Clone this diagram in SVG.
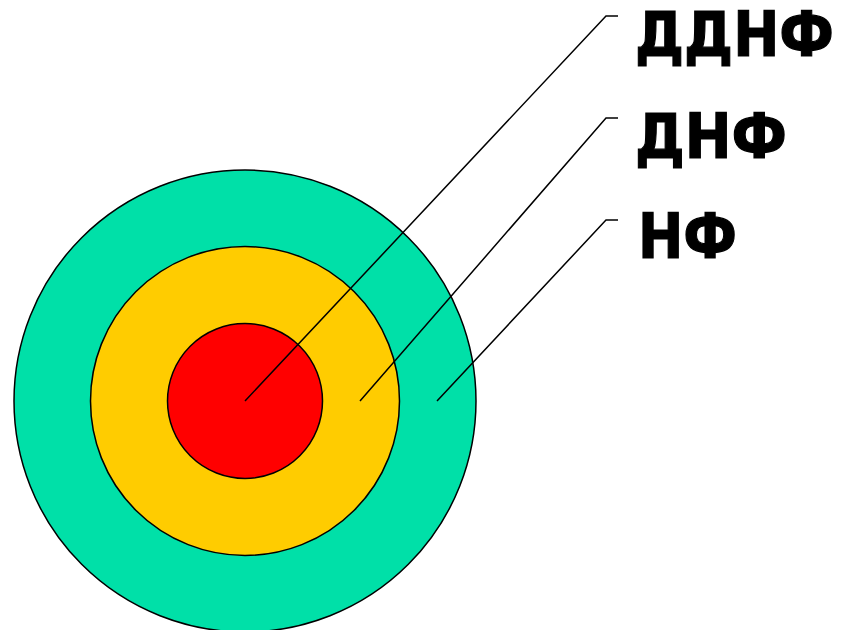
<svg xmlns="http://www.w3.org/2000/svg" width="843" height="630" viewBox="0 0 843 630">
<style>
.ring{stroke:#000;stroke-width:1.5}
.lead{fill:none;stroke:#000;stroke-width:1.5}
.lbl{font-family:"DejaVu Sans","Verdana",sans-serif;font-weight:bold;font-size:62px;fill:#000;stroke:#000;stroke-width:1.2}
</style>
<rect width="843" height="630" fill="#fff"/>
<g id="nf-ring"><circle class="ring" cx="245" cy="401" r="231" fill="#00E0A8"/></g>
<g id="dnf-ring"><circle class="ring" cx="245" cy="401" r="154.5" fill="#FFCC00"/></g>
<g id="ddnf-ring"><circle class="ring" cx="245" cy="401" r="77.5" fill="#FF0000"/></g>
<g id="connectors">
<polyline class="lead" points="245,401 606,16 618,16"/>
<polyline class="lead" points="360,401 606,118 618,118"/>
<polyline class="lead" points="437,401 606,220 618,220"/>
</g>
<g id="label-ddnf"><text class="lbl" x="635" y="56" textLength="199" lengthAdjust="spacingAndGlyphs">ДДНФ</text></g>
<g id="label-dnf"><text class="lbl" x="635" y="158" textLength="152" lengthAdjust="spacingAndGlyphs">ДНФ</text></g>
<g id="label-nf"><text class="lbl" x="638" y="258" textLength="99" lengthAdjust="spacingAndGlyphs">НФ</text></g>
</svg>
